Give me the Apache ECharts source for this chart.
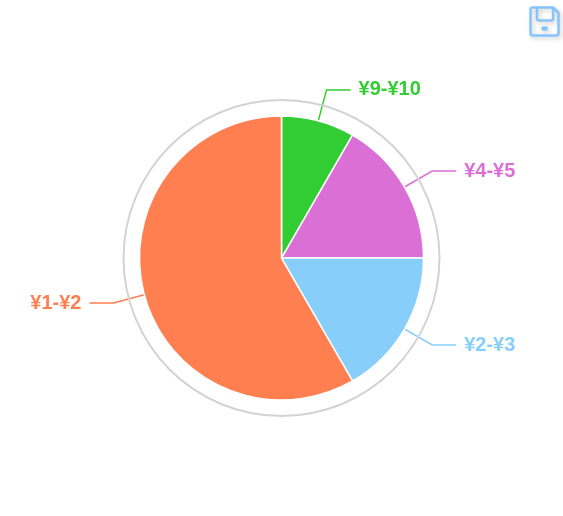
<!DOCTYPE html>
<html>
<head>
<meta charset="utf-8">
<title>pie</title>
<style>
  html, body { margin: 0; padding: 0; background: #fff; }
  #main { width: 563px; height: 516px; }
</style>
<script src="https://cdn.jsdelivr.net/npm/echarts@6/dist/echarts.min.js"></script>
</head>
<body>
<div id="main"></div>
<script>
var categories = ['¥9-¥10', '¥4-¥5', '¥2-¥3', '¥1-¥2'];
var counts = [1, 2, 2, 7];
var colors = ['#32cd32', '#da70d6', '#87cefa', '#ff7f50'];

// 软盘图标
var saveIcon = 'path://M1 3Q1 1 3 1L22 1L27 6L27 25Q27 27 25 27L3 27Q1 27 1 25Z' +
  'M7 1L7 11Q7 13 9 13L20 13Q22 13 22 11L22 1' +
  'M12 20.5A2 1 0 1 0 16 20.5A2 1 0 1 0 12 20.5Z';

var chart = echarts.init(document.getElementById('main'));

var pieData = categories.map(function (name, i) {
  return { name: name, value: counts[i], itemStyle: { color: colors[i] } };
});

chart.setOption({
  animation: false,
  toolbox: {
    show: true,
    left: 528,
    top: 5,
    padding: 0,
    itemGap: 0,
    itemSize: 28,
    feature: {
      saveAsImage: { show: true, title: '', icon: saveIcon }
    },
    iconStyle: {
      color: 'none',
      borderColor: '#87c4fa',
      borderWidth: 2.5,
      shadowColor: 'rgba(0,0,0,0.2)',
      shadowBlur: 4,
      shadowOffsetX: 2,
      shadowOffsetY: 2
    }
  },
  series: [
    // 外圈
    {
      type: 'pie',
      silent: true,
      center: ['50%', '50%'],
      radius: [157, 159],
      label: { show: false },
      labelLine: { show: false },
      itemStyle: { color: '#d3d3d3' },
      data: [{ name: 'ring', value: 1 }]
    },
    {
      type: 'pie',
      center: ['50%', '50%'],
      radius: [0, 142],
      startAngle: 90,
      clockwise: true,
      avoidLabelOverlap: false,
      itemStyle: { borderColor: '#fff', borderWidth: 1.5 },
      label: {
        color: 'inherit',
        fontFamily: '"Liberation Sans", Arial, sans-serif',
        fontSize: 20,
        fontWeight: 'bold',
        distanceToLabelLine: 8
      },
      labelLine: { length: 32, length2: 24, smooth: false, lineStyle: { width: 1.5 } },
      data: pieData
    }
  ]
});
</script>
</body>
</html>
